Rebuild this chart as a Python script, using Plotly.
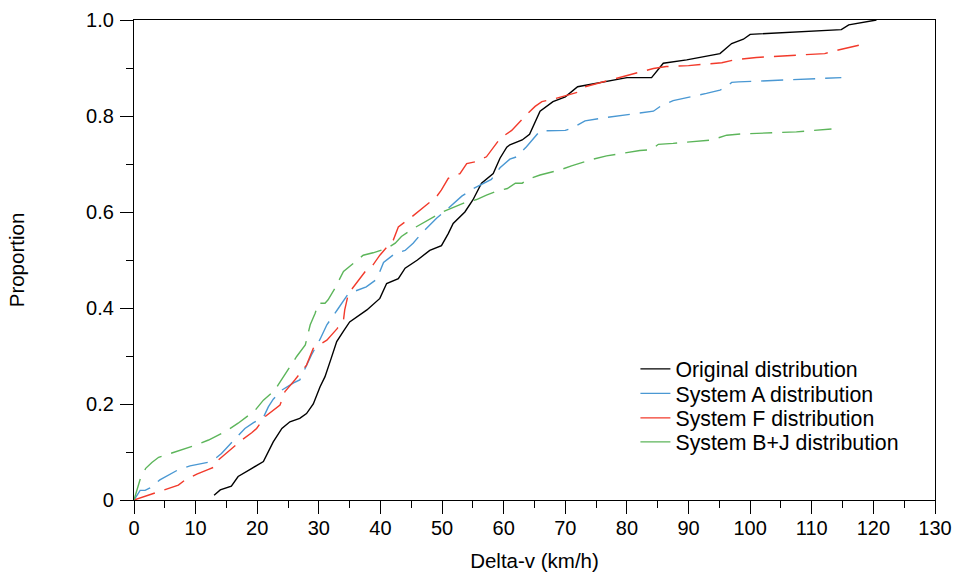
import plotly.graph_objects as go

# ---- data ----
orig_x = [13, 14, 15.8, 16.9, 19, 21, 22.6, 24, 25.3, 26.9, 28, 29.1, 30.2, 31, 32, 32.9, 34, 35, 37.8, 39.9,
          41, 42.9, 44, 46, 48, 49.9, 51, 51.8, 53.7, 55, 56.4, 58.3, 59.4, 60.5, 61, 63, 64.2, 65, 65.9, 68,
          70, 72, 75.6, 80, 84, 85.9, 89.7, 95.1, 97, 98.9, 100, 114.8, 116, 120.5]
orig_y = [0.01, 0.021, 0.029, 0.049, 0.065, 0.08, 0.121, 0.149, 0.163, 0.17, 0.18, 0.2, 0.236, 0.257, 0.295,
          0.33, 0.352, 0.371, 0.396, 0.42, 0.451, 0.461, 0.483, 0.50, 0.52, 0.53, 0.555, 0.576, 0.6, 0.625,
          0.66, 0.68, 0.712, 0.735, 0.74, 0.75, 0.762, 0.785, 0.81, 0.83, 0.84, 0.861, 0.869, 0.88, 0.88,
          0.91, 0.917, 0.93, 0.951, 0.96, 0.97, 0.98, 0.99, 1.0]

sysA_x = [0, 1, 1.8, 2.6, 4.2, 7.1, 9.1, 12.6, 14.2, 16.4, 18, 19.4, 21, 21.8, 22.6, 24, 25.9, 26.9, 27.8,
          28.8, 30.2, 31.3, 33.2, 34.8, 37.7, 39.4, 40.5, 42.4, 44, 45.3, 46.7, 49.1, 50.7, 53.2, 55.1, 58,
          59.4, 61, 62.1, 63.7, 65.9, 70, 71.3, 73.2, 76.7, 82.1, 84.3, 85.4, 87.5, 92.9, 95.1, 96.2, 97,
          98.1, 109.1, 114.8]
sysA_y = [0, 0.02, 0.02, 0.025, 0.042, 0.0625, 0.071, 0.08, 0.097, 0.128, 0.149, 0.161, 0.172, 0.194, 0.21,
          0.229, 0.244, 0.25, 0.274, 0.302, 0.335, 0.365, 0.40, 0.43, 0.444, 0.46, 0.495, 0.514, 0.52, 0.535,
          0.556, 0.587, 0.604, 0.633, 0.649, 0.668, 0.692, 0.71, 0.715, 0.736, 0.769, 0.77, 0.776, 0.79,
          0.797, 0.807, 0.81, 0.82, 0.832, 0.847, 0.854, 0.861, 0.87, 0.871, 0.876, 0.88]

sysF_x = [0, 3.4, 5.3, 7.2, 8.3, 10.2, 12.1, 13.1, 13.4, 14.8, 17.5, 19.1, 19.9, 21.3, 23.7, 24.5, 26.1, 28,
          29.1, 31.3, 32.9, 34, 34.2, 34.8, 36.1, 37.7, 38.8, 39.9, 41.3, 42.1, 42.9, 44.8, 47.5, 49.1, 49.9,
          51, 52.9, 54, 55.6, 57.2, 59.4, 61.3, 63.5, 65.1, 66.2, 68, 70.8, 72.4, 73.2, 75.6, 78.9, 81, 84.3,
          86.4, 90, 95.4, 97.5, 101, 112.1, 114.3, 117.8]
sysF_y = [0, 0.014, 0.022, 0.031, 0.042, 0.054, 0.064, 0.069, 0.08, 0.096, 0.125, 0.14, 0.149, 0.174, 0.198,
          0.226, 0.25, 0.281, 0.316, 0.333, 0.356, 0.375, 0.396, 0.43, 0.451, 0.479, 0.49, 0.51, 0.531, 0.542,
          0.569, 0.587, 0.615, 0.632, 0.646, 0.67, 0.68, 0.701, 0.705, 0.715, 0.753, 0.77, 0.80, 0.82, 0.83,
          0.835, 0.845, 0.851, 0.861, 0.869, 0.88, 0.8875, 0.899, 0.903, 0.905, 0.911, 0.917, 0.922, 0.93,
          0.9375, 0.948]

sysBJ_x = [0, 1, 1.9, 2.9, 4, 4.75, 6.7, 10.2, 12.1, 15, 16.9, 19.6, 21, 22.9, 23.4, 24.5, 26.4, 27.8, 28.6,
           29.4, 29.9, 31, 31.5, 32.6, 34, 35.9, 37.2, 38.8, 41, 42.4, 43.4, 45.1, 48.3, 50.2, 53.4, 55.6,
           57.2, 58.6, 60.6, 61.9, 63, 63.9, 65.9, 69.1, 71, 74.5, 76.7, 80, 82.1, 84, 85.1, 87.5, 93.7, 96.2,
           98.4, 107.5, 113.2]
sysBJ_y = [0, 0.043, 0.066, 0.078, 0.089, 0.092, 0.1, 0.115, 0.125, 0.144, 0.16, 0.186, 0.208, 0.229, 0.24,
           0.2625, 0.299, 0.323, 0.365, 0.389, 0.41, 0.41, 0.417, 0.441, 0.476, 0.496, 0.51, 0.515, 0.524,
           0.535, 0.549, 0.564, 0.587, 0.601, 0.618, 0.626, 0.635, 0.642, 0.649, 0.66, 0.66, 0.668, 0.677,
           0.6875, 0.696, 0.71, 0.717, 0.724, 0.728, 0.73, 0.741, 0.743, 0.75, 0.76, 0.7625, 0.767, 0.773]

names = ["Original distribution", "System A distribution", "System F distribution", "System B+J distribution"]
y_tickvals = [0, 0.2, 0.4, 0.6, 0.8, 1.0]
y_ticktext = ["0", "0.2", "0.4", "0.6", "0.8", "1.0"]
x_tickvals = list(range(0, 131, 10))

colors = ["#000000", "#4a98d3", "#f23a2b", "#5cb55a"]
dashes = ["solid", "22px,10px", "22px,10px", "22px,10px"]
series = [(orig_x, orig_y), (sysA_x, sysA_y), (sysF_x, sysF_y), (sysBJ_x, sysBJ_y)]
legend_ids = ["legend", "legend2", "legend3", "legend4"]
legend_rows = [0.2729, 0.2219, 0.1708, 0.1208]

FONT = "Liberation Sans, Arial, sans-serif"

fig = go.Figure()
for (xs, ys), c, d in zip(series, colors, dashes):
    fig.add_trace(go.Scatter(x=xs, y=ys, mode="lines", showlegend=False,
                             line=dict(color=c, width=1.4, dash=d)))
# legend samples (solid), one legend per row for exact spacing
for n, c, lid in zip(names, colors, legend_ids):
    fig.add_trace(go.Scatter(x=[None], y=[None], mode="lines", name=n, legend=lid,
                             line=dict(color=c, width=1.4)))

legend_common = dict(x=0.626, xanchor="left", yanchor="middle",
                     bgcolor="rgba(0,0,0,0)", font=dict(size=21.3), borderwidth=0)
layout_legends = {lid: dict(y=ry, **legend_common) for lid, ry in zip(legend_ids, legend_rows)}

fig.update_layout(
    width=953, height=574,
    margin=dict(l=134, r=18, t=20, b=74),
    paper_bgcolor="white", plot_bgcolor="white",
    font=dict(family=FONT, size=20, color="#000000"),
    **layout_legends,
)
fig.update_xaxes(
    range=[0, 130], tickvals=x_tickvals, showgrid=False, zeroline=False, automargin=False,
    showline=True, linecolor="black", linewidth=1.2, mirror=True,
    ticks="outside", ticklen=13, tickwidth=1.2, tickcolor="black", ticklabelstandoff=-3,
    minor=dict(ticks="outside", ticklen=7, tickwidth=1.2, tickcolor="black", dtick=5, tick0=0, showgrid=False),
    title=dict(text="Delta-v (km/h)", font=dict(size=20.5), standoff=15),
    tickfont=dict(size=20),
)
fig.update_yaxes(
    range=[0, 1.0], tickvals=y_tickvals, ticktext=y_ticktext, showgrid=False, zeroline=False, automargin=False,
    showline=True, linecolor="black", linewidth=1.2, mirror=True,
    ticks="outside", ticklen=13, tickwidth=1.2, tickcolor="black", ticklabelstandoff=2,
    minor=dict(ticks="outside", ticklen=7, tickwidth=1.2, tickcolor="black", dtick=0.1, tick0=0, showgrid=False),
    title=dict(text="Proportion", font=dict(size=20.5), standoff=55),
    tickfont=dict(size=20),
)

fig.write_html("out.html", config={"displayModeBar": False},
               post_script="document.body.style.margin='0';document.body.style.overflow='hidden';")
